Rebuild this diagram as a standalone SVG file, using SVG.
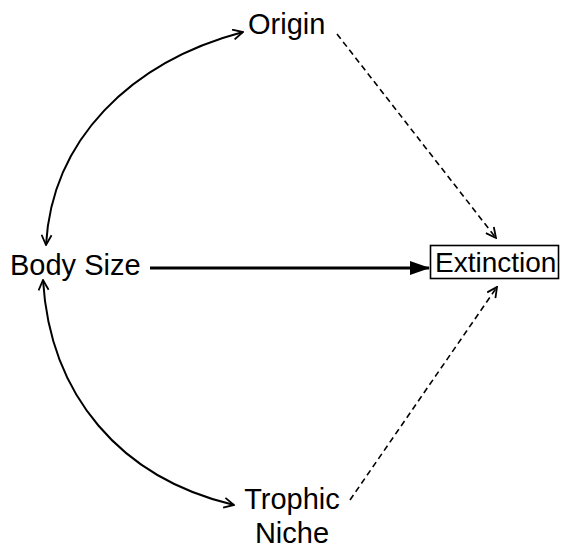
<svg xmlns="http://www.w3.org/2000/svg" width="563" height="548" viewBox="0 0 563 548">
<style>
text{font-family:"Liberation Sans",Arial,sans-serif;font-size:29px;fill:#000}
.c{fill:none;stroke:#000;stroke-width:2}
.d{fill:none;stroke:#000;stroke-width:1.6;stroke-dasharray:6 4}
.m{fill:none;stroke:#000;stroke-width:3.2}
</style>
<defs>
<marker id="open" viewBox="0 0 12 12" refX="11" refY="6" markerWidth="12" markerHeight="12" markerUnits="userSpaceOnUse" orient="auto-start-reverse">
<path d="M1,1 L11,6 L1,11" fill="none" stroke="#000" stroke-width="1.8"/>
</marker>
<marker id="fill" viewBox="0 0 20 14" refX="19" refY="7" markerWidth="20" markerHeight="14" markerUnits="userSpaceOnUse" orient="auto">
<path d="M0,0 L20,7 L0,14 Z" fill="#000"/>
</marker>
</defs>
<g id="connectors">
<path class="c" d="M243,32 C130,62 52,140 46,245" marker-start="url(#open)" marker-end="url(#open)"/>
<path class="c" d="M43,280 C50,395 120,478 234,505" marker-start="url(#open)" marker-end="url(#open)"/>
<path class="m" d="M150,268 L429,268" marker-end="url(#fill)"/>
<path class="d" d="M337,34 L496,238" marker-end="url(#open)"/>
<path class="d" d="M350,500 L497,287" marker-end="url(#open)"/>
</g>
<g id="origin"><text x="248" y="34">Origin</text></g>
<g id="bodysize"><text x="10" y="275">Body Size</text></g>
<g id="extinction"><rect x="430.5" y="245.5" width="128" height="33" fill="none" stroke="#000" stroke-width="1.6"/><text x="435" y="272" style="font-size:28px">Extinction</text></g>
<g id="trophic"><text x="292" y="509" text-anchor="middle">Trophic</text><text x="292" y="543" text-anchor="middle">Niche</text></g>
</svg>
